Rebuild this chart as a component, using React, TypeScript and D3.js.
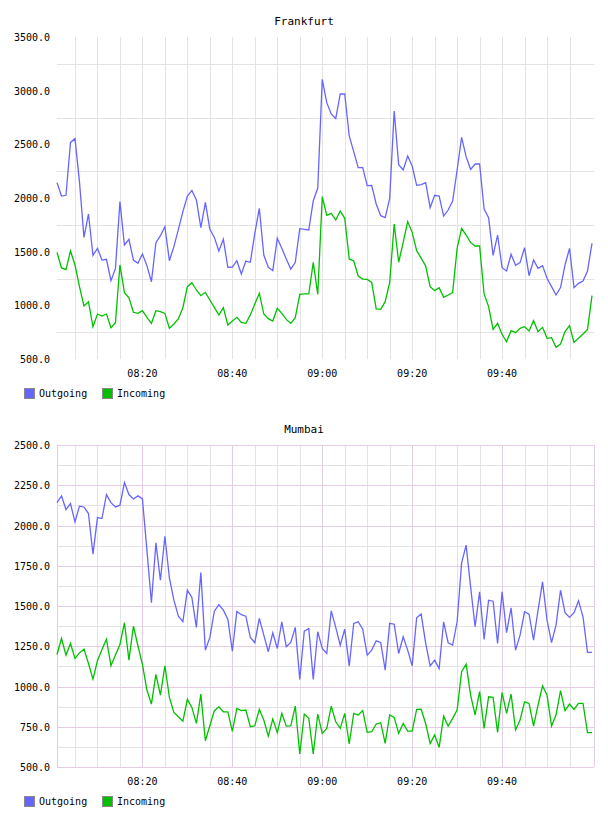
import React from "react";
import * as d3 from "d3";

// ---------- data ----------
const startTime = new Date(2020, 0, 1, 8, 1, 0);
const minutes = d3.range(120);
const times: Date[] = minutes.map((m) => d3.timeMinute.offset(startTime, m));

const seriesNames = ["Outgoing", "Incoming"];
const seriesColors = ["#6666ff", "#00c000"];
const xTickLabels = ["08:20", "08:40", "09:00", "09:20", "09:40"];

const frankfurtOutgoing = [
  2143, 2018, 2025, 2518, 2553, 2150, 1633, 1851, 1466, 1531,
  1422, 1429, 1230, 1341, 1966, 1562, 1615, 1422, 1391, 1478,
  1370, 1220, 1584, 1649, 1733, 1416, 1547, 1708, 1873, 2018,
  2071, 1981, 1724, 1960, 1708, 1633, 1506, 1615, 1354, 1357,
  1416, 1292, 1413, 1401, 1671, 1904, 1469, 1354, 1323, 1624,
  1531, 1432, 1338, 1401, 1714, 1708, 1702, 1975, 2093, 3106,
  2888, 2783, 2739, 2969, 2969, 2578, 2432, 2283, 2283, 2115,
  2118, 1944, 1835, 1817, 1997, 2811, 2311, 2261, 2391, 2298,
  2118, 2125, 2143, 1910, 2025, 2018, 1832, 1888, 1972, 2261,
  2565, 2385, 2267, 2317, 2317, 1897, 1817, 1466, 1655, 1351,
  1320, 1475, 1373, 1398, 1537, 1276, 1422, 1345, 1370, 1252,
  1174, 1096, 1165, 1376, 1531, 1165, 1205, 1227, 1320, 1578,
];
const frankfurtIncoming = [
  1494, 1348, 1332, 1506, 1376, 1174, 994, 1034, 801, 919,
  900, 919, 792, 838, 1376, 1118, 1071, 935, 925, 950,
  888, 832, 950, 941, 925, 786, 826, 876, 978, 1174,
  1211, 1143, 1090, 1121, 1050, 981, 910, 978, 817, 855,
  888, 841, 832, 910, 1012, 1112, 919, 876, 854, 972,
  925, 869, 832, 885, 1102, 1106, 1106, 1401, 1102, 2012,
  1838, 1857, 1795, 1879, 1811, 1432, 1413, 1273, 1245, 1242,
  1214, 966, 963, 1034, 1214, 1758, 1401, 1587, 1780, 1680,
  1509, 1440, 1366, 1174, 1137, 1165, 1075, 1096, 1118, 1531,
  1717, 1655, 1584, 1553, 1553, 1106, 988, 776, 832, 730,
  661, 764, 745, 786, 801, 761, 857, 755, 795, 693,
  699, 609, 640, 755, 811, 655, 693, 733, 776, 1090,
];
const mumbaiOutgoing = [
  2142, 2184, 2099, 2136, 2022, 2120, 2115, 2074, 1822, 2049,
  2043, 2192, 2142, 2115, 2126, 2267, 2192, 2165, 2184, 2165,
  1847, 1520, 1892, 1660, 1933, 1675, 1536, 1437, 1402, 1598,
  1553, 1367, 1708, 1226, 1305, 1468, 1509, 1474, 1418, 1219,
  1466, 1446, 1437, 1305, 1272, 1423, 1319, 1216, 1334, 1236,
  1402, 1247, 1274, 1367, 1044, 1344, 1360, 1044, 1340, 1236,
  1205, 1470, 1367, 1257, 1356, 1127, 1392, 1402, 1356, 1195,
  1226, 1284, 1274, 1102, 1392, 1387, 1205, 1309, 1226, 1129,
  1427, 1450, 1270, 1128, 1164, 1112, 1402, 1272, 1257, 1402,
  1768, 1878, 1619, 1371, 1588, 1292, 1536, 1530, 1267, 1588,
  1334, 1489, 1226, 1319, 1464, 1449, 1288, 1474, 1650, 1412,
  1272, 1381, 1598, 1458, 1429, 1458, 1532, 1433, 1212, 1212,
];
const mumbaiIncoming = [
  1199, 1298, 1195, 1267, 1174, 1209, 1232, 1143, 1046, 1160,
  1230, 1294, 1129, 1195, 1261, 1396, 1164, 1375, 1253, 1137,
  978, 891, 1075, 947, 1129, 932, 839, 812, 785, 920,
  870, 771, 953, 663, 756, 850, 874, 843, 843, 721,
  864, 850, 854, 750, 756, 858, 792, 692, 798, 713,
  833, 754, 756, 878, 581, 829, 802, 581, 829, 709,
  740, 878, 781, 740, 833, 643, 833, 823, 850, 715,
  719, 767, 775, 647, 823, 808, 709, 771, 723, 723,
  858, 859, 770, 645, 699, 622, 816, 754, 802, 854,
  1092, 1139, 947, 823, 968, 740, 936, 932, 715, 963,
  833, 953, 730, 792, 905, 895, 754, 885, 1003, 947,
  754, 823, 974, 850, 891, 858, 895, 895, 713, 713,
];

const frankfurtYTicks = [500, 1000, 1500, 2000, 2500, 3000, 3500];
const mumbaiYTicks = [500, 750, 1000, 1250, 1500, 1750, 2000, 2250, 2500];

// ---------- layout ----------
const W = 608;
const H = 816;
const FONT = "'DejaVu Sans Mono', monospace";
const left = 57;
const right = 594;
const lastX = 592;

type ChartProps = {
  title: string;
  top: number;
  bottom: number;
  yTicks: number[];
  series: number[][];
  style: "plain" | "pink";
};

function Chart({ title, top, bottom, yTicks, series, style }: ChartProps) {
  const x = d3.scaleTime().domain([times[0], times[times.length - 1]]).range([left, lastX]);
  const y = d3
    .scaleLinear()
    .domain([yTicks[0], yTicks[yTicks.length - 1]])
    .range([bottom, top]);
  const fmt = d3.format(".1f");
  const step = yTicks[1] - yTicks[0];
  const halfTicks = yTicks.slice(0, -1).map((v) => v + step / 2);
  const fiveMin = d3.timeMinute
    .every(5)!
    .range(times[0], times[times.length - 1]);
  const majorTimes = fiveMin.filter((t) => t.getMinutes() % 20 === 0);
  const minorTimes = fiveMin.filter((t) => t.getMinutes() % 20 !== 0);
  const line = d3
    .line<number>()
    .x((_, i) => x(times[i]))
    .y((d) => y(d));
  const gray = "#e3e3e3";
  const pink = "#e4cce4";
  const cx = (v: number) => Math.round(v) + 0.5;

  return (
    <g>
      <text x={W / 2} y={top - 12} textAnchor="middle" fontFamily={FONT} fontSize={11} fill="#000">
        {title}
      </text>
      {/* grid */}
      <g shapeRendering="crispEdges" strokeWidth={1}>
        {halfTicks.map((v) => (
          <line key={"h" + v} x1={left} x2={right} y1={cx(y(v))} y2={cx(y(v))} stroke={gray} />
        ))}
        {(style === "plain" ? fiveMin : minorTimes).map((t) => (
          <line key={"v" + +t} x1={cx(x(t))} x2={cx(x(t))} y1={top} y2={bottom} stroke={gray} />
        ))}
        {style === "pink" &&
          yTicks.map((v) => (
            <line key={"hm" + v} x1={left} x2={right} y1={cx(y(v))} y2={cx(y(v))} stroke={pink} />
          ))}
        {style === "pink" &&
          majorTimes.map((t) => (
            <line key={"vm" + +t} x1={cx(x(t))} x2={cx(x(t))} y1={top} y2={bottom} stroke={pink} />
          ))}
        {style === "pink" && (
          <>
            <line x1={cx(left)} x2={cx(left)} y1={top} y2={bottom} stroke={pink} />
            <line x1={cx(right)} x2={cx(right)} y1={top} y2={bottom} stroke={pink} />
          </>
        )}
      </g>
      {/* y labels */}
      {yTicks.map((v) => (
        <text
          key={"yl" + v}
          x={50}
          y={y(v) + 4}
          textAnchor="end"
          fontFamily={FONT}
          fontSize={10}
          fill="#000"
        >
          {fmt(v)}
        </text>
      ))}
      {/* x labels */}
      {majorTimes.map((t, i) => (
        <text
          key={"xl" + +t}
          x={x(t)}
          y={bottom + 18}
          textAnchor="middle"
          fontFamily={FONT}
          fontSize={10}
          fill="#000"
        >
          {xTickLabels[i] ?? d3.timeFormat("%H:%M")(t)}
        </text>
      ))}
      {/* lines */}
      {series.map((s, k) => (
        <path
          key={"s" + k}
          d={line(s) ?? ""}
          fill="none"
          stroke={seriesColors[k]}
          strokeWidth={1.3}
          strokeLinejoin="miter"
        />
      ))}
      {/* legend */}
      {seriesNames.map((n, k) => {
        const lx = k === 0 ? 24 : 102;
        return (
          <g key={"lg" + n}>
            <rect
              x={lx + 0.5}
              y={bottom + 29.5}
              width={10}
              height={10}
              fill={seriesColors[k]}
              stroke="#888"
              shapeRendering="crispEdges"
            />
            <text x={lx + 15} y={bottom + 38} fontFamily={FONT} fontSize={10} fill="#000">
              {n}
            </text>
          </g>
        );
      })}
    </g>
  );
}

export default function App() {
  return (
    <svg
      width={W}
      height={H}
      viewBox={`0 0 ${W} ${H}`}
      style={{ position: "absolute", left: 0, top: 0, background: "#fff" }}
    >
      <rect width={W} height={H} fill="#fff" />
      <Chart
        title="Frankfurt"
        top={37}
        bottom={359}
        yTicks={frankfurtYTicks}
        series={[frankfurtOutgoing, frankfurtIncoming]}
        style="plain"
      />
      <Chart
        title="Mumbai"
        top={445}
        bottom={767}
        yTicks={mumbaiYTicks}
        series={[mumbaiOutgoing, mumbaiIncoming]}
        style="pink"
      />
    </svg>
  );
}
